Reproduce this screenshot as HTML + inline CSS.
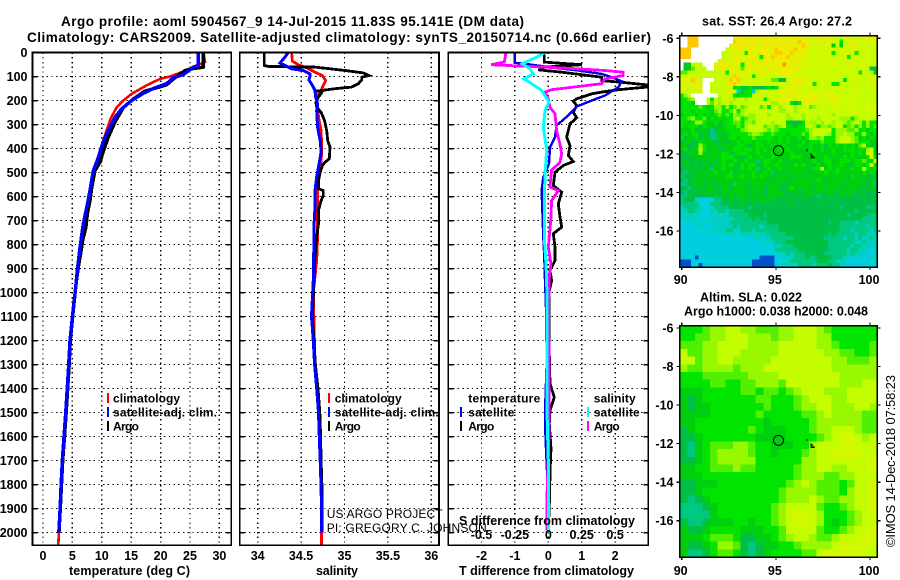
<!DOCTYPE html>
<html lang="en">
<head>
<meta charset="utf-8">
<title>Argo profile</title>
<style>
html,body{margin:0;padding:0;background:#fff;}
svg{display:block;}
text{font-family:"Liberation Sans",sans-serif;font-weight:bold;font-size:12.5px;fill:#000;}
.t{font-size:13.5px;}
.lg{font-size:12px;}
.thin{font-weight:normal;font-size:12px;}
.stamp{font-weight:normal;font-size:13px;}
</style>
</head>
<body>
<svg id="root" width="900" height="580" viewBox="0 0 900 580" xmlns="http://www.w3.org/2000/svg">
<text class="t" x="61" y="26" textLength="463" lengthAdjust="spacing">Argo profile: aoml 5904567_9 14-Jul-2015 11.83S 95.141E (DM data)</text>
<text class="t" x="27" y="42" textLength="624" lengthAdjust="spacing">Climatology: CARS2009. Satellite-adjusted climatology: synTS_20150714.nc (0.66d earlier)</text>

<g id="p1"></g>
<g id="p2"></g>
<g id="p3"></g>
<g id="m1"></g>
<g id="m2"></g>

<text x="69" y="575" textLength="121" lengthAdjust="spacing">temperature (deg C)</text>
<text x="316" y="575" textLength="42" lengthAdjust="spacing">salinity</text>
<text x="459" y="575" textLength="175" lengthAdjust="spacing">T difference from climatology</text>
<text x="459" y="525" textLength="176" lengthAdjust="spacing">S difference from climatology</text>

<g>
<rect x="107" y="393" width="2" height="10" fill="#f00"/>
<rect x="107" y="407" width="2" height="10" fill="#00f"/>
<rect x="107" y="421" width="2" height="10" fill="#000"/>
<text class="lg" x="113" y="402.5" textLength="67" lengthAdjust="spacing">climatology</text>
<text class="lg" x="113" y="416.5" textLength="104" lengthAdjust="spacing">satellite-adj. clim.</text>
<text class="lg" x="113" y="430.5" textLength="26" lengthAdjust="spacing">Argo</text>
</g>
<g>
<rect x="328" y="393" width="2" height="10" fill="#f00"/>
<rect x="328" y="407" width="2" height="10" fill="#00f"/>
<rect x="328" y="421" width="2" height="10" fill="#000"/>
<text class="lg" x="334.7" y="402.5" textLength="67" lengthAdjust="spacing">climatology</text>
<text class="lg" x="334.7" y="416.5" textLength="104" lengthAdjust="spacing">satellite-adj. clim.</text>
<text class="lg" x="334.7" y="430.5" textLength="26" lengthAdjust="spacing">Argo</text>
</g>
<g>
<rect x="460" y="407" width="2" height="10" fill="#00f"/>
<rect x="460" y="421" width="2" height="10" fill="#000"/>
<rect x="587" y="407" width="2" height="10" fill="#0ff"/>
<rect x="587" y="421" width="2" height="10" fill="#f0f"/>
<text class="lg" x="468.3" y="402.5" textLength="72" lengthAdjust="spacing">temperature</text>
<text class="lg" x="468.3" y="416.5" textLength="46" lengthAdjust="spacing">satellite</text>
<text class="lg" x="468.3" y="430.5" textLength="26" lengthAdjust="spacing">Argo</text>
<text class="lg" x="593.7" y="402.5" textLength="42" lengthAdjust="spacing">salinity</text>
<text class="lg" x="593.7" y="416.5" textLength="46" lengthAdjust="spacing">satellite</text>
<text class="lg" x="593.7" y="430.5" textLength="26" lengthAdjust="spacing">Argo</text>
</g>

<text class="thin" x="326.7" y="518" textLength="116" lengthAdjust="spacing">US ARGO PROJECT</text>
<text class="thin" x="326.7" y="532" textLength="160" lengthAdjust="spacing">PI: GREGORY C. JOHNSON</text>

<text x="702" y="25.5" textLength="150" lengthAdjust="spacing">sat. SST: 26.4 Argo: 27.2</text>
<text x="700" y="301.5" textLength="102" lengthAdjust="spacing">Altim. SLA: 0.022</text>
<text x="684" y="315.5" textLength="184" lengthAdjust="spacing">Argo h1000: 0.038 h2000: 0.048</text>
<text class="stamp" transform="translate(895,547) rotate(-90)" x="0" y="0" textLength="172" lengthAdjust="spacing">©IMOS 14-Dec-2018 07:58:23</text>
</svg>

<script>
// ---- axis tick labels ----
const depthTicks = [0,100,200,300,400,500,600,700,800,900,1000,1100,1200,1300,1400,1500,1600,1700,1800,1900,2000];
const tempTicks = [0,5,10,15,20,25,30];
const salTicks = [34,34.5,35,35.5,36];
const salTickLabels = ['34','34.5','35','35.5','36'];
const tDiffTicks = [-2,-1,0,1,2];
const sDiffTicks = [-0.5,-0.25,0,0.25,0.5];
const sDiffTickLabels = ['-0.5','-0.25','0','0.25','0.5'];
const lonTicks = [90,95,100];
const latTicks = [-6,-8,-10,-12,-14,-16];

// ---- temperature profiles ----
const tempArgoDepth = [0,61,68,75,110,135,147,161,193,228,290,353,408,457,492,561,617,672,728,783,839,894,950,1006,1100,1200,1300,1400,1500,1600,1700,1800,1900,2000];
const tempArgo = [27.27,27.27,25.3,24.15,22.2,21.0,19.3,17.35,15.4,13.7,12.25,11.1,10.3,9.7,8.85,8.3,8.0,7.55,7.3,6.75,6.4,6.0,5.7,5.45,5.05,4.65,4.45,4.2,3.95,3.65,3.35,3.15,2.95,2.72];
const tempSatDepth = [0,54,61,92,105,130,147,170,200,235,269,325,367,436,492,575,631,714,811,908,1006,1100,1200,1300,1400,1500,1600,1700,1800,1900,2000];
const tempSat = [26.4,26.4,25.57,23.87,22.2,21.0,19.05,17.06,15.08,13.38,12.25,11.1,10.3,9.44,8.56,8.0,7.55,6.86,6.3,5.83,5.45,5.0,4.6,4.37,4.12,3.86,3.57,3.28,3.08,2.9,2.68];
const tempClimDepth = [0,40,54,82,100,110,137,172,200,228,276,325,408,478,575,644,728,811,908,1006,1100,1200,1300,1400,1500,1600,1700,1800,1900,2000,2054];
const tempClim = [27.3,27.55,26.1,23.6,21.6,19.9,17.6,15.08,13.66,12.53,11.5,10.83,9.7,8.85,8.0,7.55,7.14,6.58,6.0,5.45,5.0,4.6,4.37,4.12,3.86,3.57,3.28,3.08,2.9,2.68,2.6];

// ---- salinity profiles ----
const salArgoDepth = [0,54,58,61,75,85,96,103,114,130,144,151,158,161,162,186,207,228,249,283,325,367,394,443,457,471,499,533,568,575,596,617,658,714,769,853,950,1100,1300,1400,1500,1600,1700,1800,1900,2000];
const salArgo = [34.076,34.076,34.122,34.66,35.006,35.217,35.282,35.198,35.198,35.16,35.08,34.89,34.745,34.68,34.745,34.70,34.67,34.68,34.73,34.77,34.795,34.806,34.833,34.825,34.775,34.745,34.72,34.70,34.70,34.756,34.756,34.73,34.70,34.70,34.68,34.66,34.65,34.63,34.665,34.695,34.715,34.725,34.73,34.74,34.74,34.74];
const salSatDepth = [0,19,44,54,68,75,89,103,114,137,158,186,214,242,311,367,415,478,519,575,644,714,797,881,950,1100,1200,1300,1400,1500,1600,1700,1800,1900,2000];
const salSat = [34.353,34.315,34.257,34.315,34.39,34.526,34.6,34.6,34.59,34.63,34.66,34.668,34.69,34.68,34.69,34.72,34.73,34.70,34.68,34.66,34.66,34.65,34.65,34.64,34.64,34.62,34.64,34.655,34.68,34.70,34.71,34.72,34.73,34.735,34.735];
const salClimDepth = [0,36,51,64,82,96,117,137,158,186,221,269,325,394,464,505,561,644,769,867,1000,1300,1500,1700,1900,2000,2054];
const salClim = [34.39,34.4,34.468,34.564,34.66,34.745,34.783,34.756,34.73,34.68,34.69,34.70,34.73,34.737,34.73,34.70,34.69,34.69,34.69,34.68,34.64,34.66,34.70,34.72,34.735,34.735,34.735];

// ---- difference profiles ----
const dTArgoDepth = [0,40,51,61,72,82,103,117,124,135,144,155,165,172,193,203,221,249,272,297,353,387,429,454,471,499,554,582,631,686,728,755,811,867,908,950,1000,1200,1380,1436,1492,1547,1650,1750,1850,2000];
const dTArgo = [-0.119,-0.119,1.0,-0.099,-0.30,0.40,1.6,1.6,2.2,2.945,2.945,2.1,1.6,1.3,0.85,0.75,0.85,0.75,0.85,0.65,0.55,0.65,0.6,0.75,0.45,0.2,0.15,0.40,0.3,0.35,0.40,0.15,0.2,0.2,0.05,0.1,0.02,0.02,0.05,0.18,0.05,0.03,0.08,0.05,0.04,0];
const dTSatDepth = [0,43,47,64,75,89,103,120,144,179,200,225,262,304,353,394,464,519,575,686,769,853,950,1100,1300,1500,1547,1650,1800,2000];
const dTSat = [-1.0,-1.0,-0.7,0.2,0.9,1.6,1.9,2.2,2.1,1.7,1.3,0.85,0.6,0.25,0.2,0.05,0.02,-0.15,-0.2,-0.17,-0.15,-0.12,-0.1,-0.06,-0.05,-0.1,-0.1,-0.07,-0.02,0];
const dSArgoDepth = [0,40,51,64,75,82,96,110,130,155,165,193,228,255,325,380,422,457,491,561,575,617,686,741,811,881,950,1100,1300,1600,1880,1990];
const dSArgo = [-0.317,-0.329,-0.429,0.1,0.424,0.561,0.561,0.424,0.4,0.025,-0.025,0,0.012,0.05,0.062,0.087,0.1,0.087,0.025,0.012,0.075,0.025,0.02,0.012,0,0.02,0.005,0.003,0.005,0.005,-0.012,-0.012];
const dSSatDepth = [0,19,47,68,89,110,130,158,207,242,311,408,505,631,769,881,950,1100,1300,1492,1700,2000];
const dSSat = [-0.025,-0.087,-0.195,-0.137,-0.112,-0.182,-0.125,-0.05,0.005,-0.025,-0.037,-0.012,-0.025,-0.03,-0.03,-0.017,-0.012,-0.01,-0.008,-0.01,0,0.002];

// ---- map cell colours: one character per cell, see palette ----
const mapPalette = {A:'#0050c8',B:'#00cfe0',C:'#00d0c0',D:'#00c880',E:'#00bf45',F:'#00cf10',G:'#00e400',H:'#50f000',I:'#98f800',J:'#c4fc00',K:'#d4f800',L:'#eeec00',M:'#ffc800',N:'#ff9800',W:'#ffffff'};
const sstRows = [
"WWMMMWWWWWWWWWLLLLKLLLLLKLLLLKLLKLKKLKLLKKJKLKKJKLKL",
"WWMMMWWWWWWWWWMLLLLLKLLLLLLKLLLMLLKKKLKKKJGJKKLKKJKK",
"WWMMMWWWWWWWWKLLLLLLLKLLKLLLLLKLMLKKJKKKFJFJKLKJJKKJ",
"MMMWWWWWWWWWJKKLLKLLKLLKLMLLLLMLLKKJKKJKKJKKJKKJJKJJ",
"MMMWWWWWWWWJJKLKKGLKKLLLKMMLLMLKLKKJKJKKGJKKJKGJKKJJ",
"MMMWWWWWWWWJKKKLKKLLKGLLMLLLMKLLKKJKKKJKJKKJGKJJKJKK",
"WWWWWWWWWWKLKKLLKLKKLKLLLKLLLKLLKKJKJKKJKJJKKJKJKJJJ",
"WFFJJJWWWKLLLKKLGKLKLKLLKLLNLLKLKKKJKKJKKJKJKKJJKKJK",
"WEFHJJJWWLKLKLKKHKLKLLKLKLLLLKLLKKJKJJKKJKKJKJJKKJEE",
"HHJJKJJJJJJKGKKLKLKKKLKKKLKLLLKKJKJKKJKJJKJKKJJGJJJF",
"JJKJJJJJKJKJJKMLKKKGJJKKJKKLKKLKKJKJJKJKJKJJKJKJJJJJ",
"KLJMLKWWWJKJKMLMJKKKJKJKHHEEKKLKLKKKJKJKJKJGJJKJJKJJ",
"KKLLKJWWJJJJLLMLKJKJKJKJKJKKJKLLKKKGJKJJGGJKJJKJJJKK",
"LKKKKLWWJJJJJKFGEEGEFEEGEGJLKLKJJKJJJKJJKJKJJKJJJJJJ",
"JKJKKKWWJJJJKLJBFGGBJKJJKJLKKLKKJKJKKJKJJKJJKJKJJJJJ",
"GIKWWWWWWWJJKJGFGGGJJJJKJJKKLKLLKKLLKJLLKJKJJKKKJJJJ",
"GGHIWWWJGJIJJJIJJIJJJJGJKKLLLKJKKLLKKKJKLKKJKKJJJKJJ",
"GGGFWWWJHJIJJIJJJJJJJKJKIIKJKGEGKLKJKKJKKJKJKJJJJJJJ",
"GGGGGHGFGIIGIGHJHIJJKHJGJKIJKKIJJKHIJKJJKKKJKKJJKKJK",
"GGGFGGGGFHIGGHJGIJJJJJKJJJIIJJIJKJJKJKJJJKJJJKJKJJKK",
"FGGGFGFGFGHGHGIHIJIIJJJIJJJJIJJJIJJJJJKJIJJKKJJJKJJJ",
"GGHIGGHFGFGFGGIJGHIIJJKJKJJJIIJJIJJJIJJJJJIIIGIJJJJJ",
"GGFGIIGFFGFFGGHHGIIHJJJJIJJJFEEEGJIIJIJJIJJIHIJIGIGG",
"GFGGGEGFFFEFGGGHGIJJJJHIIHIJGFFGGJKIGIIHIJJGHIGIGIGH",
"FFFGEFFFDEFFGGGGHIJJJJIHIHGGGGGGGHIJJJJJGIIIHHIGGFGG",
"FGFGGEFEDDFEFGGGGGHIIHGGHGGGFGGGHGIJJJJIGIIJIIGGIGFG",
"GEFFGEFFDDFFFGGFGGGHGGGGGFGFGFFGFGIIHIGGGIJJJIHFGFGF",
"EFFEEGFFFEEFEFFGFGGFGFFGFFGFGFFFGFGGGHGGGIJKJIHGGGFF",
"FFEEFIGFFFEFFFFGGFEFGGFFGFFGFFFGFFGFFGEGFGFGFGFHJFFF",
"FGEFFJGEFFFEFFGGFGGFGFGFFFGFGFFFFFGFFGFFGFFGGGFGFIJF",
"EEFFFIFFFFFGGEFGGGFFGFFFGFFFFGFFFFFGFFFFGFFFFGFGFJKF",
"EEEFEFFFFFFGGGFFEFGFFGFFGFFFFGGGFFFFFFGFFFFGFGFFFGKG",
"EFEEFEFEFEFGFFGFFGFFDFGGFFGFEFFFFFFGFFGGFFGGGFGGHGFJ",
"EEFEFEFFEFFGFGFEGFGGFEGFFGFFFFGFGFFEGFFGFFGFEFGGFGJG",
"EFEEFEEFDFFGFFEFGFGFDFFGFFGFFFFFFEFGGJFGFGFFFGFFJGFG",
"EDEFEFFFFGFFFGEFFFFGFFGFDFFEFFFFFFEFFFGFFGFFFFFFGFGF",
"DEEEFFEFFFFFGGFFGFFGFGFFFEFFFEFFFFFFFFFFFFFFEGFFFFEF",
"EDEFEFFFEFFFFFEFFFFFFFFEFFFFFFFFFFEFGFEFFFFFFFFFFEFF",
"DDEFFFEFFEFFFEGFFFEFFFFFFFFEEFFFFFFFFFFFFFFEFFFFFEFD",
"EEDEEFEFFFEFFEFFFFFFFFEFFFEEFGFFFFFEFFFFFFEFFFFFEFFE",
"EDEEFEFFFEEFFFFFFFEFEFEFFFFEEFFEEFFFFFEFFEFFFFEFEEEE",
"DDEEEEEEEFEFEFEFFFFFFFEFFFFEEEEFEFEEDEEFEEFEFEEEEEEE",
"DEEEBBBBBDDEEFEEFEEFEFFFEEEEFEEEEEEEEFEEEEEEEEEEEEEE",
"DDDDDBBBDDDEEEEEFEEEEEEEEEEEEFEEEEEEEEEEEEEEEEEEEEEE",
"CDDDDCBBCDDDDEEEEEDEEEEEEEEEEEEEEEEEEEEEEEDEEEEEEDDE",
"CCDDCCBBCCDDCDDDDEEEEEEEEEEEEEEEEEEEEEEEEEEEEEDEEEEE",
"CCCCCBBBCCCCCDDDDDEEEEDEEEEEEEEEEEEEEEEEEEEEDEEEEDDD",
"BCCCCCCCBCCCCCDDDDDEDEEEEEEEEEEEEEEEEEEEEEEEEEEEDDDD",
"BBBCCBBCCCCCCDDDDDDDDDDEEEEEEEEEEEEEEEEDEEDDDDCDDDDD",
"BBBBCCBBBCCCCCDCDDDDDBDDDDEEEEEEEEEEEEEEEEDDDDDDDCDD",
"BBBBBBBCCCCCDDCCDDDCDDDDDDEEEEEEEEEEEEEEEEDDDCDDDDCD",
"BBBBBBBBBBBCCCCBCCCCCCCDDDDDEEEEEEEEEEEDEDDDDDCDDCCC",
"BBBBBBBBBBBBBBBBBBBCCCCCDDDDDDEEEEEEEEDDDDDCDDCDCCDC",
"BBBBBBBBBBBBBBBBBBBBBBCCCDDDEEEEEEEEEEEDDDDDDDCCDCCC",
"BBBBBBBBBBBBBBBBBBBBBBBBCCCDDDEEEEEEEEEDDDDDDCDDCCCC",
"BBBBBBBBBBBBBBBBBBBBBBBBBDDDDDDEEEEEEEEDDDDDCDDCCCBC",
"BBBBBBBBBBBBBBBBBBBBBBBBBBCCDCDDDEEEEEDDDDDDCDCCCBBC",
"BBBBABBBBBBBBBBBBBBBBAAAABBCCCDDDEDDEEEEDDDCCBBCBBCC",
"AAABBBBBBBBBBBBBBBBAAAAAABBBCDDDDDDDEEEDDCCCBBBBCBBB",
"AAABBABBBBBBBBBBBBBAAAAAABBCCCBDDDDCDDDEDDCCBBBBBBBB"
];
const slaRows = [
"GGGHIIJJIIHHHIIJJJIHGGGGGG",
"GGHHIIJJJIIIHIIJJJIIGGGGGG",
"HHHIIJJJJIIIIJJJJJIIHGGGGH",
"JHHIIJJJIIIIIJJJJJJIIHHGGH",
"JJHIIJJIIIIIJJJJJJJJIIHHHI",
"IHHIIIIHIIIJJJJJJJJJIIIIII",
"GGGHHHHHHIIIIJJJJJJJJIIIII",
"GGGGHHGGHHIIIHJJJJJJJIIIJJ",
"FFFGGGGGHHGHHGHIJJJIIIJJJJ",
"FEFGGGGGGGHHGGGHIJJJIIJJJJ",
"FEFFGGGGGGGHGGGHIIJJIIIJJI",
"FFFFGGGGGGHGGGGGHHIJIIIIHH",
"FFGGGGGGGGGFGGGGGHIIIIIIHH",
"EFGGGGGGGHGFFFGGGHIIJJJIHH",
"EEFGGGGGGGFFFFGGGGHIJKKJIJ",
"EDFGHHHIIHGGFFFGGIJJJKKJJJ",
"EDFGHIIIIHGGFGGGHIJJKKKKJJ",
"EEFGHIIIIIGGGGGGIIJJJJJJJK",
"FFGGHHHIHHGGGGGHIIJJIIJJJK",
"FFFGGGGGGGGGGGGHIIIHHIIJJJ",
"EEFFFGGGGGGGGGHIJIHHHGHJJK",
"EEFGGGGGGGGGGHIIIIHHHGIJJK",
"EDEFGGGGGGGGGHIIIJIHHIIJJK",
"DDDEFGGGGGGGHIJJJJHGGHIJJK",
"DDDDFGGGGGGGHIJKKJIGGGHIJK",
"EDDEFFFGGFGGHIJKKJIGFGHIJJ",
"FEEFGGGGFFFGGHJJJJHGGHIJJK",
"FFFGHHHGEEFFGHIJJIHHIJJJKK",
"FEEFGIIHEDEFFGGHIIIIJKKKKJ",
"FDDEGHHGEDEFGGGGHHJKKKKKJJ"
];
// Float position and trajectory (lon, lat)
const floatLon = 95.141;
const floatLat = -11.83;
const trackLon = [96.65,96.95];
const trackLat = [-11.8,-12.15];

// ---- axis functions ----
const yD = d => 52.5 + 0.24 * d;
const xT = v => 43 + 5.88 * v;
const xS = v => 257.7 + 86.8 * (v - 34);
const xDT = v => 548.3 + 33.4 * v;
const xDS = v => 548.3 + 133.6 * v;
const lonX = v => 681.7 + 18.83 * (v - 90);
const lat1Y = v => 38.3 + 19.27 * (-6 - v);
const lat2Y = v => 328 + 19.27 * (-6 - v);

const NS = 'http://www.w3.org/2000/svg';
function mk(tag, attrs, parent) {
  const e = document.createElementNS(NS, tag);
  for (const k in attrs) e.setAttribute(k, attrs[k]);
  parent.appendChild(e);
  return e;
}
const P1 = document.getElementById('p1');
const P2 = document.getElementById('p2');
const P3 = document.getElementById('p3');
const M1 = document.getElementById('m1');
const M2 = document.getElementById('m2');

function drawPanel(g, left, right, xs, showDepthLabels) {
  const top = yD(0), bottom = 545.3;
  depthTicks.forEach(function (d) {
    if (d > 0) {
      const gl = mk('line', {x1:left, x2:right, y1:yD(d), y2:yD(d), stroke:'#000', 'stroke-width':1.4, 'stroke-dasharray':'1.4 3.3', 'shape-rendering':'crispEdges'}, g);
      
      
      const t1 = mk('line', {x1:left, x2:left+5, y1:yD(d), y2:yD(d), stroke:'#000', 'stroke-width':1.5, 'shape-rendering':'crispEdges'}, g);
      
      
      const t2 = mk('line', {x1:right-5, x2:right, y1:yD(d), y2:yD(d), stroke:'#000', 'stroke-width':1.5, 'shape-rendering':'crispEdges'}, g);
      
      
    }
    if (showDepthLabels) {
      const lb = mk('text', {x:27.5, y:yD(d)+4.5, 'text-anchor':'end'}, g);
      lb.textContent = String(d);
      
      
    }
  });
  xs.forEach(function (x) {
    const gl = mk('line', {x1:x, x2:x, y1:top, y2:bottom, stroke:'#000', 'stroke-width':1.4, 'stroke-dasharray':'1.4 3.3', 'shape-rendering':'crispEdges'}, g);
    
    
  });
}
function drawFrame(g, left, right) {
  const b = mk('rect', {x:left, y:yD(0), width:right-left, height:545.3-yD(0), fill:'none', stroke:'#000', 'stroke-width':1.8, 'shape-rendering':'crispEdges'}, g);
  
  
}
function series(g, xf, vals, depths, color, w, name) {
  const pts = vals.map(function (v, i) { return xf(v).toFixed(1) + ',' + yD(depths[i]).toFixed(1); }).join(' ');
  const pl = mk('polyline', {points:pts, fill:'none', stroke:color, 'stroke-width':w, 'stroke-linejoin':'miter', 'shape-rendering':'crispEdges'}, g);
  
  
}
function xLabels(g, ticks, labels, xf, y, name) {
  ticks.forEach(function (v, i) {
    const t = mk('text', {x:xf(v), y:y, 'text-anchor':'middle'}, g);
    t.textContent = labels ? labels[i] : String(v);
    
    
  });
}

// Temperature panel
drawPanel(P1, 32.5, 231.3, tempTicks.map(xT), true);
series(P1, xT, tempClim, tempClimDepth, '#f00', 2.6, 'line-climatology-temperature');
series(P1, xT, tempArgo, tempArgoDepth, '#000', 3.4, 'line-argo-temperature');
series(P1, xT, tempSat, tempSatDepth, '#00f', 3.4, 'line-satellite-temperature');
drawFrame(P1, 32.5, 231.3);
xLabels(P1, tempTicks, null, xT, 560, 'temperature-tick-label');

// Salinity panel
drawPanel(P2, 239.7, 439, salTicks.map(xS), false);
series(P2, xS, salClim, salClimDepth, '#f00', 2.8, 'line-climatology-salinity');
series(P2, xS, salArgo, salArgoDepth, '#000', 2.8, 'line-argo-salinity');
series(P2, xS, salSat, salSatDepth, '#00f', 3, 'line-satellite-salinity');
drawFrame(P2, 239.7, 439);
xLabels(P2, salTicks, salTickLabels, xS, 560, 'salinity-tick-label');

// Difference panel
drawPanel(P3, 448.3, 648.3, tDiffTicks.map(xDT), false);
series(P3, xDT, dTArgo, dTArgoDepth, '#000', 2.8, 'line-t-diff-argo');
series(P3, xDT, dTSat, dTSatDepth, '#0000e0', 2.4, 'line-t-diff-satellite');
series(P3, xDS, dSArgo, dSArgoDepth, '#f0f', 2.8, 'line-s-diff-argo');
series(P3, xDS, dSSat, dSSatDepth, '#0ff', 3, 'line-s-diff-satellite');
drawFrame(P3, 448.3, 648.3);
xLabels(P3, tDiffTicks, null, xDT, 560, 't-diff-tick-label');
xLabels(P3, sDiffTicks, sDiffTickLabels, xDS, 539, 's-diff-tick-label');

// Maps
function drawMap(g, rows, top, bottom, latY, cellName, xLabelY) {
  const left = 679.7, right = 877.3;
  const bg = mk('rect', {x:left, y:top, width:right-left, height:bottom-top, fill:'#00cf10'}, g);
  
  
  const cols = rows[0].length;
  const cw = (right - left) / cols;
  const ch = (bottom - top) / rows.length;
  rows.forEach(function (row, r) {
    for (let c = 0; c < Math.min(row.length, cols); c++) {
      const cell = mk('rect', {x:(left + c * cw).toFixed(2), y:(top + r * ch).toFixed(2), width:(cw + 0.3).toFixed(2), height:(ch + 0.3).toFixed(2), fill:mapPalette[row[c]], 'shape-rendering':'crispEdges'}, g);
      
      
    }
  });
  const f = mk('rect', {x:left, y:top, width:right-left, height:bottom-top, fill:'none', stroke:'#000', 'stroke-width':1.5, 'shape-rendering':'crispEdges'}, g);
  
  
  lonTicks.forEach(function (v) {
    const tt = mk('line', {x1:lonX(v), x2:lonX(v), y1:top-3, y2:top, stroke:'#000', 'stroke-width':1.2, 'shape-rendering':'crispEdges'}, g);
    
    
    const tb = mk('line', {x1:lonX(v), x2:lonX(v), y1:bottom, y2:bottom+3, stroke:'#000', 'stroke-width':1.2, 'shape-rendering':'crispEdges'}, g);
    
    
    const lb = mk('text', {x:lonX(v)-1, y:xLabelY, 'text-anchor':'middle'}, g);
    lb.textContent = String(v);
    
    
  });
  latTicks.forEach(function (v) {
    const tl = mk('line', {x1:left-3, x2:left, y1:latY(v), y2:latY(v), stroke:'#000', 'stroke-width':1.2, 'shape-rendering':'crispEdges'}, g);
    
    
    const tr = mk('line', {x1:right, x2:right+3, y1:latY(v), y2:latY(v), stroke:'#000', 'stroke-width':1.2, 'shape-rendering':'crispEdges'}, g);
    
    
    const lb = mk('text', {x:673.5, y:latY(v)+4.5, 'text-anchor':'end'}, g);
    lb.textContent = String(v);
    
    
  });
  const circle = mk('circle', {cx:lonX(floatLon), cy:latY(floatLat), r:5, fill:'none', stroke:'#000', 'stroke-width':1}, g);
  
  
  const t0 = mk('rect', {x:lonX(trackLon[0])-0.5, y:latY(trackLat[0])-1, width:1.2, height:2.2, fill:'#000', 'shape-rendering':'crispEdges'}, g);
  
  
  const t1 = mk('path', {d:'M' + (lonX(trackLon[1])-1.5) + ' ' + (latY(trackLat[1])-2.5) + 'l3 3.5h-3z', fill:'none', stroke:'#000', 'stroke-width':1}, g);
  
  
}
drawMap(M1, sstRows, 35.7, 267, lat1Y, 'sst-cell', 284);
drawMap(M2, slaRows, 325.7, 557, lat2Y, 'sla-cell', 575);
</script>
</body>
</html>
